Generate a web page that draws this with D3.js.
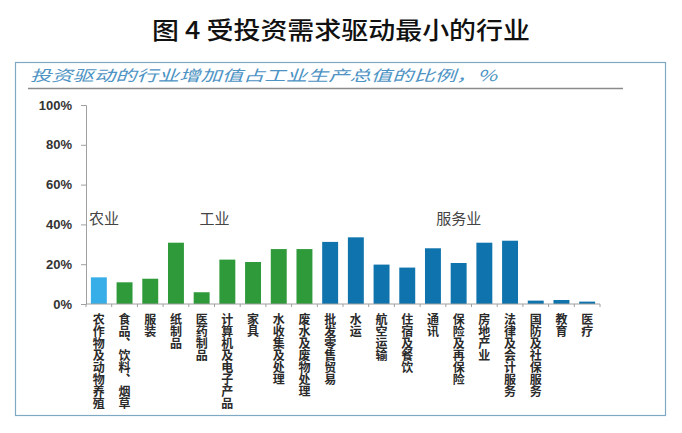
<!DOCTYPE html>
<html>
<head>
<meta charset="utf-8">
<script src="https://cdn.jsdelivr.net/npm/d3@7"></script>
<style>
  body { margin: 0; background: #fff; }
  svg { display: block; font-family: "Noto Sans CJK SC", "Noto Sans", sans-serif; }
</style>
</head>
<body>
<svg id="chart" width="682" height="433"></svg>
<script>
const categories = ["农作物及动物养殖", "食品、饮料、烟草", "服装", "纸制品", "医药制品",
  "计算机及电子产品", "家具", "水收集及处理", "废水及废物处理", "批发零售贸易",
  "水运", "航空运输", "住宿及餐饮", "通讯", "保险及再保险",
  "房地产业", "法律及会计服务", "国防及社保服务", "教育", "医疗"]
const values = [13.4, 10.9, 12.7, 30.8, 5.9, 22.3, 21.1, 27.6, 27.6, 31.2,
  33.5, 19.8, 18.3, 28.0, 20.6, 30.8, 31.8, 1.7, 2.0, 1.2]
const sectors = ["农业", "工业", "工业", "工业", "工业", "工业", "工业", "工业", "工业", "服务业",
  "服务业", "服务业", "服务业", "服务业", "服务业", "服务业", "服务业", "服务业", "服务业", "服务业"]
const sectorNames = ["农业", "工业", "服务业"]
const yTicks = [0, 20, 40, 60, 80, 100]

const title = "图 4 受投资需求驱动最小的行业"
const subtitle = "投资驱动的行业增加值占工业生产总值的比例，%"

const svg = d3.select("#chart")

const color = d3.scaleOrdinal()
  .domain(sectorNames)
  .range(["#38aee8", "#2e9a3a", "#0f74ad"])

const x = d3.scaleBand()
  .domain(categories)
  .range([86, 600])
  .paddingInner(0.38)
  .paddingOuter(0.19)

const y = d3.scaleLinear()
  .domain([0, 100])
  .range([304, 105])

// title
svg.append("text")
  .attr("x", 152).attr("y", 39)
  .attr("textLength", 378).attr("lengthAdjust", "spacingAndGlyphs")
  .attr("font-size", 24)
  .attr("font-weight", 500)
  .attr("fill", "#111")
  .text(title)

// frame
svg.append("rect")
  .attr("x", 15.5).attr("y", 62.5)
  .attr("width", 650).attr("height", 353)
  .attr("fill", "none")
  .attr("stroke", "#7fa8c2")
  .attr("stroke-width", 1.2)

svg.append("text")
  .attr("x", 30).attr("y", 81)
  .attr("textLength", 467).attr("lengthAdjust", "spacingAndGlyphs")
  .attr("font-size", 15)
  .attr("font-style", "italic")
  .attr("fill", "#4d93c4")
  .text(subtitle)

svg.append("line")
  .attr("x1", 28).attr("x2", 623)
  .attr("y1", 88.5).attr("y2", 88.5)
  .attr("stroke", "#8a8a8a")
  .attr("stroke-width", 1.3)

// y axis
const yAxis = svg.append("g")
  .attr("transform", "translate(86,0)")
  .call(d3.axisLeft(y).tickValues(yTicks).tickSize(5).tickPadding(9).tickFormat(d => d + "%"))
yAxis.select(".domain").attr("stroke", "#a0a0a0")
yAxis.selectAll(".tick line").attr("stroke", "#a0a0a0")
yAxis.selectAll(".tick text")
  .attr("font-size", 13)
  .attr("font-weight", "bold")
  .attr("font-family", "Liberation Sans, Arial, sans-serif")
  .attr("fill", "#333")

// bars
svg.append("g")
  .selectAll("rect")
  .data(categories)
  .join("rect")
  .attr("x", d => x(d))
  .attr("width", x.bandwidth())
  .attr("y", (d, i) => y(values[i]))
  .attr("height", (d, i) => y(0) - y(values[i]))
  .attr("fill", (d, i) => color(sectors[i]))

// x axis
const xAxis = svg.append("g")
  .attr("transform", `translate(0,${y(0)})`)
xAxis.append("line")
  .attr("x1", x.range()[0]).attr("x2", x.range()[1])
  .attr("stroke", "#a0a0a0")
xAxis.selectAll(".tk")
  .data(categories.concat([null]))
  .join("line")
  .attr("class", "tk")
  .attr("x1", (d, i) => x.range()[0] + i * x.step())
  .attr("x2", (d, i) => x.range()[0] + i * x.step())
  .attr("y1", 0).attr("y2", 3)
  .attr("stroke", "#a0a0a0")

// vertical category labels, one glyph per line
const labels = svg.append("g")
  .selectAll("text")
  .data(categories)
  .join("text")
  .attr("x", d => x(d) + x.bandwidth() / 2)
  .attr("y", y(0) + 9)
  .attr("writing-mode", "vertical-rl")
  .style("text-orientation", "upright")
  .attr("font-size", 12)
  .attr("font-weight", "bold")
  .attr("fill", "#2a2a2a")
labels.selectAll("tspan")
  .data(d => Array.from(d))
  .join("tspan")
  .text(ch => ch)

// sector labels
svg.append("g")
  .selectAll("text")
  .data(sectorNames)
  .join("text")
  .attr("x", s => {
    const cats = categories.filter((c, i) => sectors[i] === s)
    const mid = (x(cats[0]) + x(cats[cats.length - 1]) + x.bandwidth()) / 2
    return Math.max(mid, x.range()[0] + s.length * 9)
  })
  .attr("y", 224)
  .attr("text-anchor", "middle")
  .attr("font-size", 15)
  .attr("fill", "#444")
  .text(s => s)
</script>
</body>
</html>
